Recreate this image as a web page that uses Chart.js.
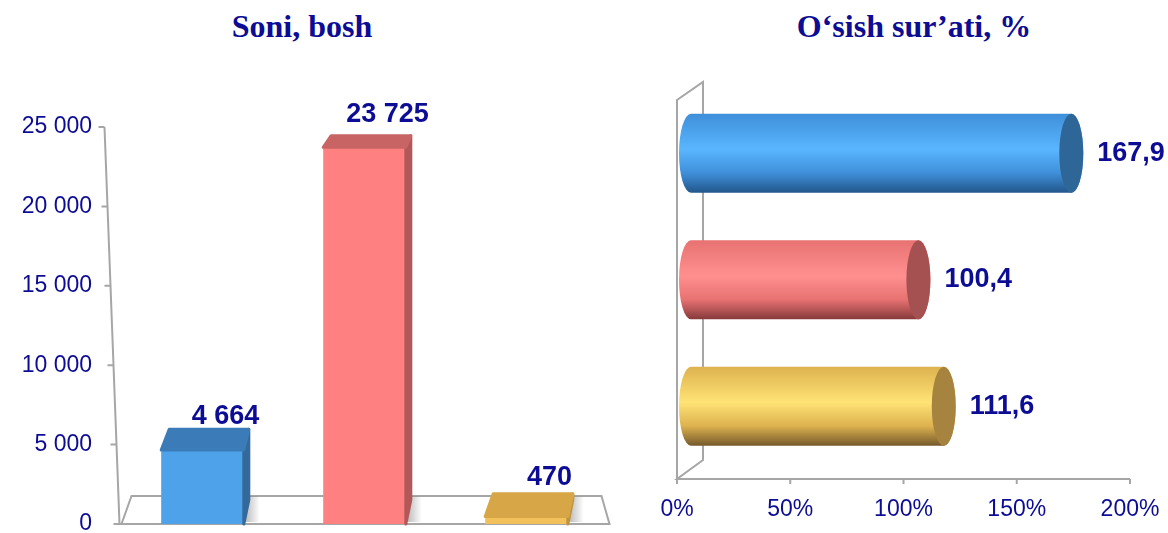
<!DOCTYPE html>
<html>
<head>
<meta charset="utf-8">
<script src="https://cdn.jsdelivr.net/npm/chart.js@4.4.1/dist/chart.umd.min.js"></script>
<style>
  body { margin: 0; background: #fff; }
  #wrap { position: relative; width: 1168px; height: 533px; overflow: hidden; }
  .ttl { position: absolute; top: 8px; height: 36px; line-height: 36px; font: bold 32px "Liberation Serif", "Times New Roman", serif; color: #0c0c94; text-align: center; white-space: nowrap; }
  canvas { position: absolute; top: 0; }
</style>
</head>
<body>
<div id="wrap">
  <div class="ttl" style="left:152px;width:300px">Soni, bosh</div>
  <div class="ttl" style="left:764px;width:300px">O‘sish sur’ati, %</div>
  <canvas id="soniChart" width="620" height="574" style="left:0"></canvas>
  <canvas id="osishChart" width="570" height="533" style="left:620px"></canvas>
</div>
<script>
var categories = ["1", "2", "3"];
var soniValues = [4664, 23725, 470];
var osishValues = [167.9, 100.4, 111.6];
var soniTicks = [0, 5000, 10000, 15000, 20000, 25000];
var osishTicks = [0, 50, 100, 150, 200];

var navy = "#0c0c94";
var axisGray = "#a6a6a6";
var labelFont = "bold 27px 'Liberation Sans', Arial, sans-serif";
var tickFont = { family: "'Liberation Sans', Arial, sans-serif", size: 23 };

// front, top and side faces of the boxes
var boxColors = [
  { front: "#4ea2ea", top: "#3b7cb8", side: "#34699c" },
  { front: "#ff8080", top: "#c96464", side: "#b35858" },
  { front: "#f3c15c", top: "#d6a647", side: "#bf933e" }
];
// cylinder shading: top edge, middle, bottom edge, end cap
var tubeColors = [
  { hi: "#3f8fd9", mid: "#5ab5ff", lo: "#22568a", cap: "#2f6698" },
  { hi: "#e87272", mid: "#ff8f8f", lo: "#86393b", cap: "#a55152" },
  { hi: "#ddb24f", mid: "#ffe375", lo: "#75592b", cap: "#a6843f" }
];

function spaced(n) {
  return String(n).replace(/\B(?=(\d{3})+(?!\d))/g, " ");
}
function comma(n) {
  return n.toFixed(1).replace(".", ",");
}

// 3D boxes, floor and slanted axis for the left chart
var boxPlugin = {
  id: "box3d",
  beforeDatasetsDraw: function (chart) {
    var ctx = chart.ctx, a = chart.chartArea;
    var b = a.bottom, back = b - 28;
    ctx.save();
    ctx.beginPath();
    ctx.moveTo(a.left, b);
    ctx.lineTo(a.left + 10, back);
    ctx.lineTo(a.right - 6, back);
    ctx.lineTo(a.right + 2, b);
    ctx.closePath();
    ctx.fillStyle = "#fff";
    ctx.fill();
    ctx.strokeStyle = axisGray;
    ctx.lineWidth = 2;
    ctx.stroke();
    // soft shadow right of each box
    chart.getDatasetMeta(0).data.forEach(function (bar) {
      var p = bar.getProps(["x", "y", "base", "width"], true);
      var r = p.x + p.width / 2;
      var g = ctx.createLinearGradient(r, 0, r + 16, 0);
      g.addColorStop(0, "rgba(120,120,120,0.55)");
      g.addColorStop(1, "rgba(120,120,120,0)");
      ctx.fillStyle = g;
      var st = Math.max(p.y - 20, back);
      ctx.fillRect(r, st, 16, p.base - st - 2);
    });
    ctx.restore();
  },
  afterDatasetsDraw: function (chart) {
    var ctx = chart.ctx, a = chart.chartArea;
    var values = chart.data.datasets[0].data;
    var back = a.bottom - 28;
    ctx.save();
    chart.getDatasetMeta(0).data.forEach(function (bar, i) {
      var p = bar.getProps(["x", "y", "base", "width"], true);
      var l = p.x - p.width / 2, r = p.x + p.width / 2, t = p.y;
      var c = boxColors[i];
      // taller boxes recede less (simple perspective)
      var d = 11 + 0.03 * (t - a.top);
      ctx.lineJoin = "round";
      ctx.lineWidth = 3;
      // side
      ctx.beginPath();
      ctx.moveTo(r, t);
      ctx.lineTo(r + 5, t - d);
      ctx.lineTo(r + 5, p.base - 24);
      ctx.lineTo(r, p.base);
      ctx.closePath();
      ctx.fillStyle = c.side; ctx.strokeStyle = c.side;
      ctx.fill(); ctx.stroke();
      // top
      ctx.beginPath();
      ctx.moveTo(l, t);
      ctx.lineTo(l + 8, t - d);
      ctx.lineTo(r + 5, t - d);
      ctx.lineTo(r, t);
      ctx.closePath();
      ctx.fillStyle = c.top; ctx.strokeStyle = c.top;
      ctx.fill(); ctx.stroke();
      // value label, kept above the floor's back edge
      ctx.fillStyle = navy;
      ctx.font = labelFont;
      ctx.textAlign = "center";
      ctx.textBaseline = "middle";
      ctx.fillText(spaced(values[i]), p.x + 23, Math.min(t - 33, back - 18));
    });
    ctx.restore();
  },
  afterDraw: function (chart) {
    var ctx = chart.ctx, a = chart.chartArea, y = chart.scales.y;
    var x0 = a.left - 17, x1 = a.left - 2;
    ctx.save();
    ctx.strokeStyle = axisGray;
    ctx.lineWidth = 2;
    ctx.beginPath();
    ctx.moveTo(x0, a.top);
    ctx.lineTo(x1, a.bottom);
    soniTicks.forEach(function (v) {
      var py = y.getPixelForValue(v);
      var ax = x0 + (x1 - x0) * (py - a.top) / (a.bottom - a.top);
      ctx.moveTo(ax - 6, py);
      ctx.lineTo(ax, py);
    });
    ctx.moveTo(x1, a.bottom);
    ctx.lineTo(a.left + 2, a.bottom);
    ctx.stroke();
    ctx.restore();
  }
};

new Chart("soniChart", {
  type: "bar",
  data: {
    labels: categories,
    datasets: [{
      data: soniValues,
      backgroundColor: boxColors.map(function (c) { return c.front; }),
      categoryPercentage: 1,
      barPercentage: 0.51,
      borderRadius: 2
    }]
  },
  options: {
    responsive: false,
    animation: false,
    layout: { padding: { top: 127, bottom: 50, left: 0, right: 12.5 } },
    plugins: { legend: { display: false }, tooltip: { enabled: false } },
    scales: {
      x: { display: false },
      y: {
        min: 0,
        max: 25000,
        afterFit: function (s) { s.width = 121.5; },
        afterBuildTicks: function (s) { s.ticks = soniTicks.map(function (v) { return { value: v }; }); },
        grid: { display: false, drawTicks: false },
        border: { display: false },
        ticks: {
          padding: 29.5,
          color: navy,
          font: tickFont,
          callback: function (v) { return spaced(v); }
        }
      }
    }
  },
  plugins: [boxPlugin]
});

// back wall, axis and cylinders for the right chart
var tubePlugin = {
  id: "tube3d",
  beforeDatasetsDraw: function (chart) {
    var ctx = chart.ctx, a = chart.chartArea, x = chart.scales.x;
    var axisY = a.bottom + 9.5, L = a.left;
    ctx.save();
    ctx.strokeStyle = axisGray;
    ctx.lineWidth = 2;
    ctx.beginPath();
    ctx.moveTo(L, axisY);
    ctx.lineTo(L, a.top + 10);
    ctx.lineTo(L + 26, a.top - 8);
    ctx.lineTo(L + 26, axisY - 19);
    ctx.lineTo(L, axisY);
    ctx.lineTo(a.right, axisY);
    osishTicks.forEach(function (v) {
      var px = x.getPixelForValue(v);
      ctx.moveTo(px, axisY);
      ctx.lineTo(px, axisY + 5);
    });
    ctx.stroke();
    ctx.restore();
  },
  afterDatasetsDraw: function (chart) {
    var ctx = chart.ctx;
    var values = chart.data.datasets[0].data;
    var dx = 14, rx = 12;
    ctx.save();
    chart.getDatasetMeta(0).data.forEach(function (bar, i) {
      var p = bar.getProps(["x", "y", "base", "height"], true);
      var x0 = p.base + dx, x1 = p.x + dx, yc = p.y, ry = p.height / 2;
      var top = yc - ry, bot = yc + ry;
      var c = tubeColors[i];
      var g = ctx.createLinearGradient(0, top, 0, bot);
      g.addColorStop(0, c.hi);
      g.addColorStop(0.45, c.mid);
      g.addColorStop(0.75, c.hi);
      g.addColorStop(1, c.lo);
      ctx.beginPath();
      ctx.moveTo(x0, top);
      ctx.lineTo(x1, top);
      ctx.ellipse(x1, yc, rx, ry, 0, -Math.PI / 2, Math.PI / 2);
      ctx.lineTo(x0, bot);
      ctx.ellipse(x0, yc, rx, ry, 0, Math.PI / 2, Math.PI * 1.5);
      ctx.closePath();
      ctx.fillStyle = g;
      ctx.fill();
      // end cap
      ctx.beginPath();
      ctx.ellipse(x1, yc, rx, ry, 0, 0, Math.PI * 2);
      ctx.fillStyle = c.cap;
      ctx.fill();
      // value label
      ctx.fillStyle = navy;
      ctx.font = labelFont;
      ctx.textAlign = "left";
      ctx.textBaseline = "middle";
      ctx.fillText(comma(values[i]), p.x + 40, yc);
    });
    ctx.restore();
  }
};

new Chart("osishChart", {
  type: "bar",
  data: {
    labels: categories,
    datasets: [{
      data: osishValues,
      backgroundColor: "rgba(0,0,0,0)",
      categoryPercentage: 1,
      barPercentage: 0.625
    }]
  },
  options: {
    indexAxis: "y",
    responsive: false,
    animation: false,
    layout: { padding: { top: 90, bottom: 0, left: 57, right: 60 } },
    plugins: { legend: { display: false }, tooltip: { enabled: false } },
    scales: {
      y: { display: false },
      x: {
        min: 0,
        max: 200,
        afterFit: function (s) { s.height = 63.5; },
        afterBuildTicks: function (s) { s.ticks = osishTicks.map(function (v) { return { value: v }; }); },
        grid: { display: false, drawTicks: false },
        border: { display: false },
        ticks: {
          padding: 26,
          color: navy,
          font: tickFont,
          callback: function (v) { return v + "%"; }
        }
      }
    }
  },
  plugins: [tubePlugin]
});
</script>
</body>
</html>
